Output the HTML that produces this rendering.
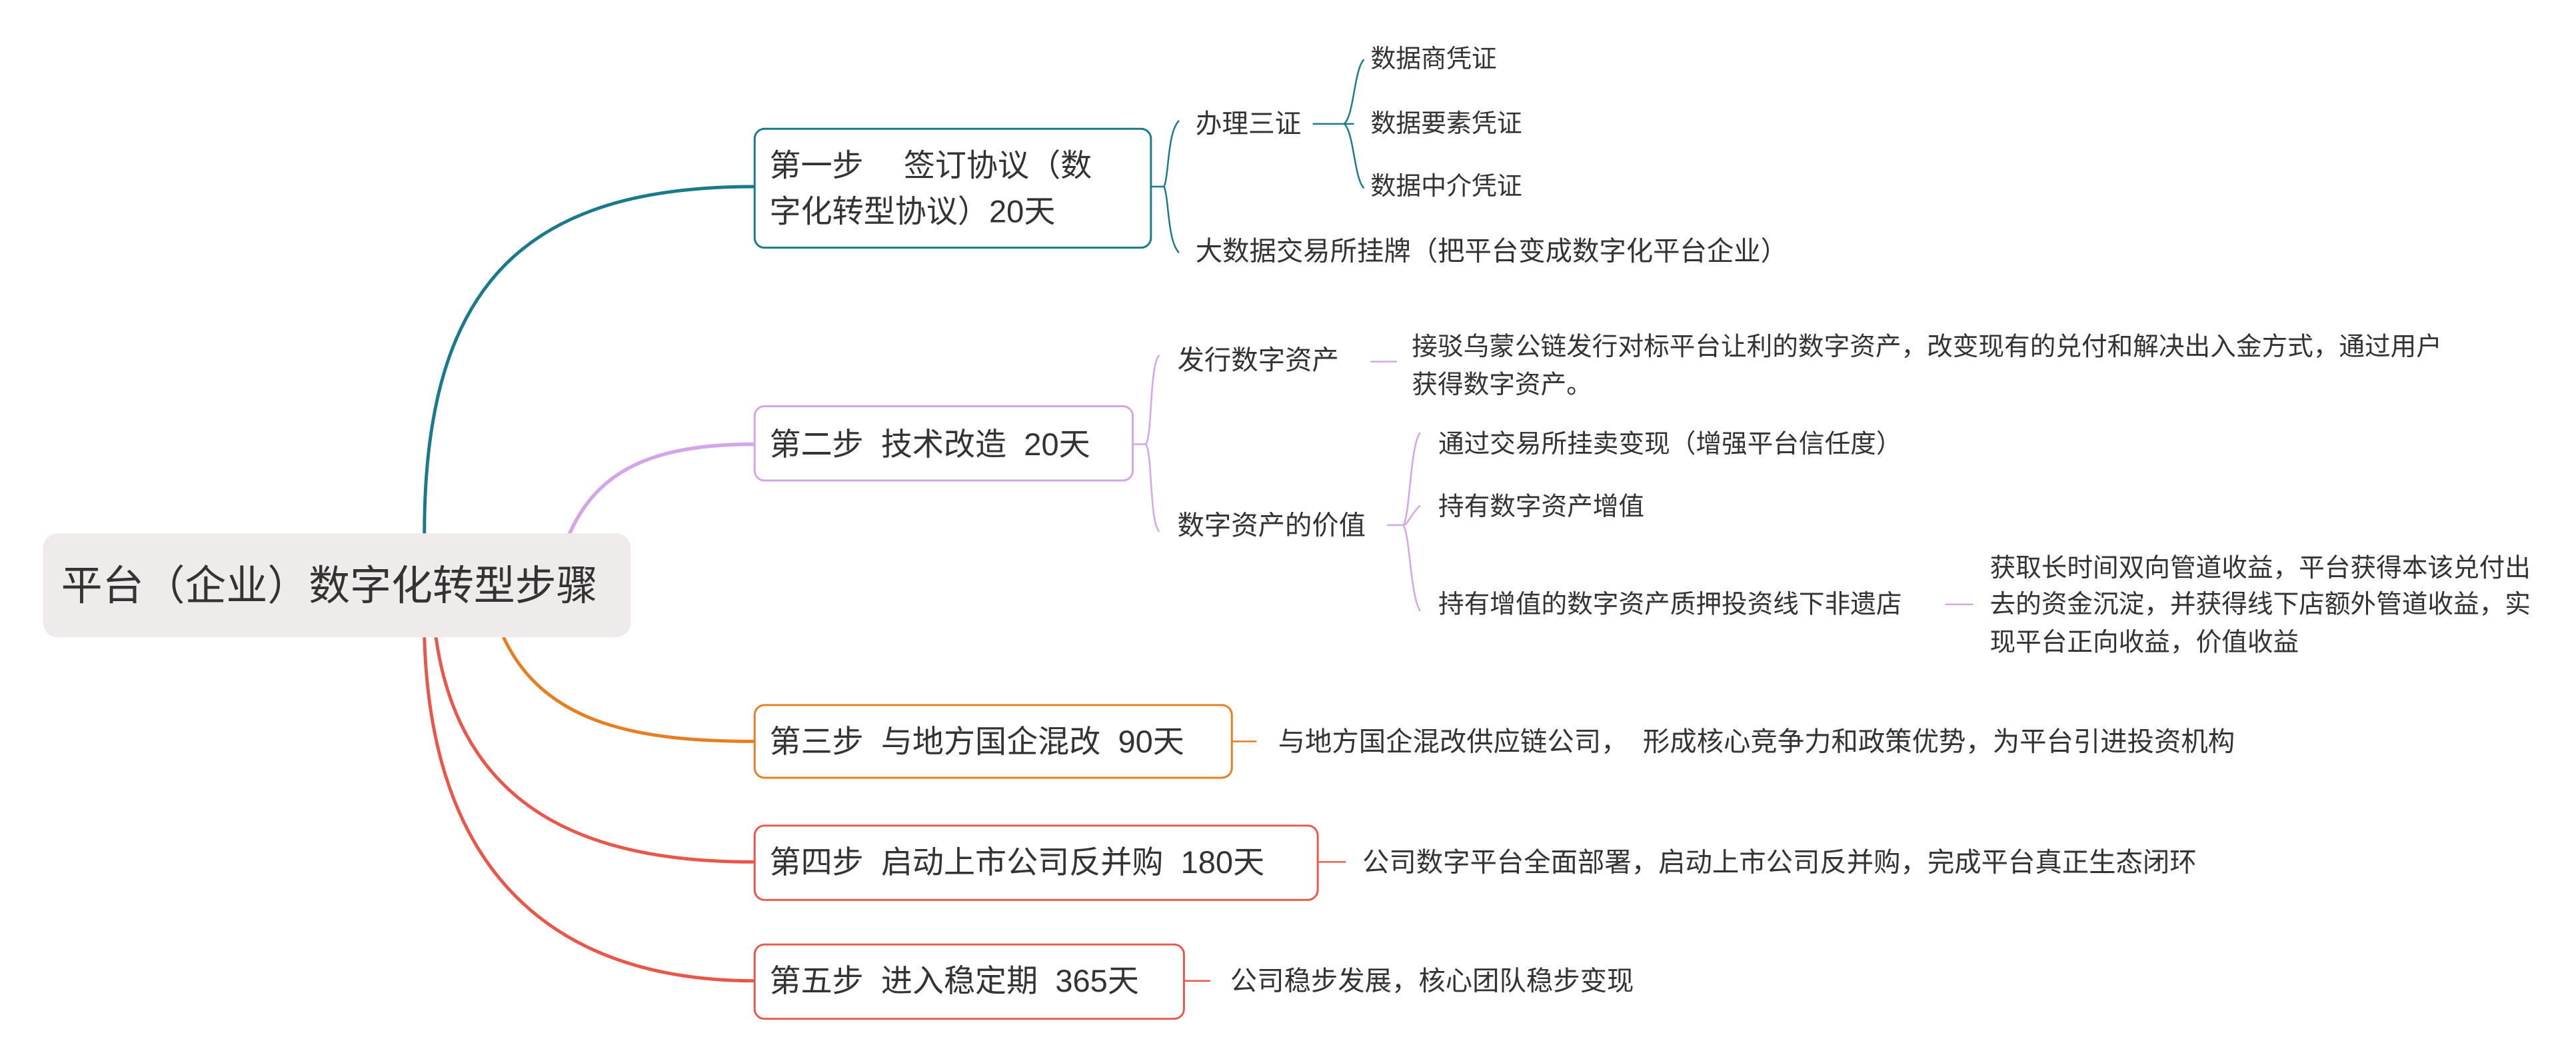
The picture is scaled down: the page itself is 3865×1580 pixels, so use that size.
<!DOCTYPE html>
<html><head><meta charset="utf-8"><style>
html,body{margin:0;padding:0;background:#fff;}
svg{display:block;}
text{font-family:"Liberation Sans","Noto Sans CJK SC",sans-serif;fill:#333;dominant-baseline:central;white-space:pre;}
</style></head><body>
<svg width="3865" height="1580" viewBox="0 0 1560 637.7" xmlns="http://www.w3.org/2000/svg" xml:space="preserve">
<rect width="1560" height="637.7" fill="#fff"/>
<g fill="none" stroke-linecap="round">
<path d="M257,323 C257,170 320,113 457,113" stroke="#1a7a8c" stroke-width="2"/>
<path d="M345,323 C362,285 395,269 457,269" stroke="#d3a6ea" stroke-width="2.2"/>
<path d="M305,386 C330,440 390,449 457,449" stroke="#e67e22" stroke-width="2"/>
<path d="M264,386 C280,500 370,522 457,522" stroke="#e8584a" stroke-width="2"/>
<path d="M257,386 C262,560 370,594 457,594" stroke="#e8584a" stroke-width="2"/>
</g>
<rect x="26" y="323" width="356" height="63" rx="9" fill="#efebeb"/>
<text x="37" y="355" font-size="25" fill="#222">平台（企业）数字化转型步骤</text>

<rect x="457" y="78" width="240" height="72" rx="6" fill="#fff" stroke="#1a7a8c" stroke-width="1.2"/>
<text x="466" y="100" font-size="19">第一步　 签订协议（数</text>
<text x="466" y="128" font-size="19">字化转型协议）20天</text>
<g fill="none" stroke="#1a7a8c" stroke-width="1">
<path d="M697,113 H705"/>
<path d="M714,73 C707,80 708,105 705,113 C708,121 707,146 714,153"/>
<path d="M795,75 H820"/>
<path d="M826,36 C820,42 820,70 814,75 C820,80 820,108 826,114"/>
</g>
<text x="724" y="75" font-size="16">办理三证</text>
<text x="830" y="36" font-size="15.3">数据商凭证</text>
<text x="830" y="75" font-size="15.3">数据要素凭证</text>
<text x="830" y="113" font-size="15.3">数据中介凭证</text>
<text x="724" y="152" font-size="16.3">大数据交易所挂牌（把平台变成数字化平台企业）</text>

<rect x="457" y="246" width="229" height="45" rx="6" fill="#fff" stroke="#d3a6ea" stroke-width="1.2"/>
<text x="466" y="269" font-size="19">第二步  技术改造  20天</text>
<g fill="none" stroke="#d3a6ea" stroke-width="1">
<path d="M686,269 H694"/>
<path d="M702,215 C696,222 698,262 694,269 C698,276 696,315 702,322"/>
<path d="M830,219 H846"/>
<path d="M840,318 H850"/>
<path d="M860,262 C854,270 854,310 850,318 C854,326 854,360 860,370"/>
<path d="M851,318 C854,314 856,310 860,306"/>
<path d="M1178,366 H1195"/>
</g>
<text x="713" y="218" font-size="16.3">发行数字资产</text>
<text x="855" y="210" font-size="15.6">接驳乌蒙公链发行对标平台让利的数字资产，改变现有的兑付和解决出入金方式，通过用户</text>
<text x="855" y="233" font-size="15.6">获得数字资产。</text>
<text x="713" y="318" font-size="16.3">数字资产的价值</text>
<text x="871" y="269" font-size="15.6">通过交易所挂卖变现（增强平台信任度）</text>
<text x="871" y="307" font-size="15.6">持有数字资产增值</text>
<text x="871" y="366" font-size="15.6">持有增值的数字资产质押投资线下非遗店</text>
<text x="1205" y="344" font-size="15.6">获取长时间双向管道收益，平台获得本该兑付出</text>
<text x="1205" y="366" font-size="15.6">去的资金沉淀，并获得线下店额外管道收益，实</text>
<text x="1205" y="389" font-size="15.6">现平台正向收益，价值收益</text>

<rect x="457" y="427" width="289" height="44" rx="6" fill="#fff" stroke="#e67e22" stroke-width="1.2"/>
<text x="466" y="449" font-size="19">第三步  与地方国企混改  90天</text>
<path d="M746,449 H761" stroke="#e67e22" stroke-width="1"/>
<text x="774" y="449" font-size="16.3">与地方国企混改供应链公司，  形成核心竞争力和政策优势，为平台引进投资机构</text>

<rect x="457" y="500" width="341" height="45" rx="6" fill="#fff" stroke="#e8584a" stroke-width="1.2"/>
<text x="466" y="522" font-size="19">第四步  启动上市公司反并购  180天</text>
<path d="M798,522 H815" stroke="#e8584a" stroke-width="1"/>
<text x="825" y="522" font-size="16.3">公司数字平台全面部署，启动上市公司反并购，完成平台真正生态闭环</text>

<rect x="457" y="572" width="260" height="45" rx="6" fill="#fff" stroke="#e8584a" stroke-width="1.2"/>
<text x="466" y="594" font-size="19">第五步  进入稳定期  365天</text>
<path d="M717,594 H733" stroke="#e8584a" stroke-width="1"/>
<text x="745" y="594" font-size="16.3">公司稳步发展，核心团队稳步变现</text>
</svg>
</body></html>
